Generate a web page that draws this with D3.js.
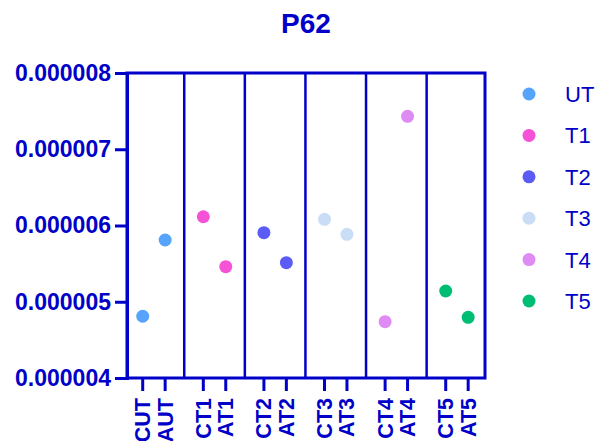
<!DOCTYPE html>
<html>
<head>
<meta charset="utf-8">
<script src="https://cdn.jsdelivr.net/npm/d3@7"></script>
<style>
  body { margin: 0; background: #fff; }
  text { font-family: "Liberation Sans", Arial, sans-serif; }
</style>
</head>
<body>
<svg id="chart" width="598" height="441"></svg>
<script>
// data
var labels = ["CUT", "AUT", "CT1", "AT1", "CT2", "AT2", "CT3", "AT3", "CT4", "AT4", "CT5", "AT5"]
var groups = ["UT", "T1", "T2", "T3", "T4", "T5"]
var values = [4.81e-6, 5.81e-6, 6.115e-6, 5.46e-6, 5.906e-6, 5.512e-6, 6.081e-6, 5.884e-6, 4.739e-6, 7.432e-6, 5.141e-6, 4.796e-6]
var colors = ["#55a3fb", "#f552d6", "#5b5bf5", "#c9ddf6", "#de8cf3", "#00bd74"]
var yTicks = [4e-6, 5e-6, 6e-6, 7e-6, 8e-6]

var blue = "#0000c8"
var svg = d3.select("#chart")

// note: "top" is taken by window.top, so use other names
var plotL = 127, plotR = 485, plotT = 73, plotB = 378
var groupStep = 2.7

// position of each column in "slot" units, with a gap between groups
function pos(i) { return Math.floor(i / 2) * groupStep + (i % 2) }

var x = d3.scaleLinear()
    .domain([-0.7, 5 * groupStep + 1.75])
    .range([plotL, plotR])

var y = d3.scaleLinear()
    .domain([4e-6, 8e-6])
    .range([plotB, plotT])

// frame
svg.append("rect")
    .attr("x", plotL).attr("y", plotT)
    .attr("width", plotR - plotL).attr("height", plotB - plotT)
    .attr("fill", "none")
    .attr("stroke", blue)
    .attr("stroke-width", 3)

// dividers between groups
for (var g = 0; g < groups.length - 1; g++) {
    var xd = x(g * groupStep + 1 + (groupStep - 1) / 2)
    svg.append("line")
        .attr("x1", xd).attr("x2", xd)
        .attr("y1", plotT).attr("y2", plotB)
        .attr("stroke", blue)
        .attr("stroke-width", 2.5)
}

// y axis
var yAxis = svg.append("g")
    .attr("transform", "translate(" + plotL + ",0)")
    .call(d3.axisLeft(y).tickValues(yTicks).tickFormat(d3.format(".6f")).tickSize(12).tickPadding(4))
yAxis.select(".domain").attr("stroke", blue).attr("stroke-width", 3)
yAxis.selectAll(".tick line").attr("stroke", blue).attr("stroke-width", 3)
yAxis.selectAll(".tick text")
    .attr("fill", blue)
    .style("font-size", "23px")
    .style("font-weight", "bold")
    .style("font-family", "Liberation Sans, Arial, sans-serif")

// x ticks and labels
var xg = svg.append("g")
labels.forEach(function (lab, i) {
    var xp = x(pos(i))
    xg.append("line")
        .attr("x1", xp).attr("x2", xp)
        .attr("y1", plotB).attr("y2", plotB + 13)
        .attr("stroke", blue)
        .attr("stroke-width", 3)
    xg.append("text")
        .attr("transform", "translate(" + (xp + 7.5) + "," + (plotB + 20) + ") rotate(-90)")
        .attr("text-anchor", "end")
        .attr("fill", blue)
        .style("font-size", "21.5px")
        .style("font-weight", "bold")
        .text(lab)
})

// points
svg.selectAll(".dot")
    .data(values)
    .enter().append("circle")
    .attr("class", "dot")
    .attr("cx", function (d, i) { return x(pos(i)) })
    .attr("cy", function (d) { return y(d) })
    .attr("r", 6.5)
    .attr("fill", function (d, i) { return colors[Math.floor(i / 2)] })

// title
svg.append("text")
    .attr("x", (plotL + plotR) / 2)
    .attr("y", 33)
    .attr("text-anchor", "middle")
    .attr("fill", blue)
    .style("font-size", "28px")
    .style("font-weight", "bold")
    .text("P62")

// legend
var legend = svg.append("g")
groups.forEach(function (name, i) {
    var ly = 94 + i * 41.4
    legend.append("circle")
        .attr("cx", 529).attr("cy", ly).attr("r", 6.5)
        .attr("fill", colors[i])
    legend.append("text")
        .attr("x", 565).attr("y", ly + 8)
        .attr("fill", blue)
        .style("font-size", "22px")
        .text(name)
})
</script>
</body>
</html>
